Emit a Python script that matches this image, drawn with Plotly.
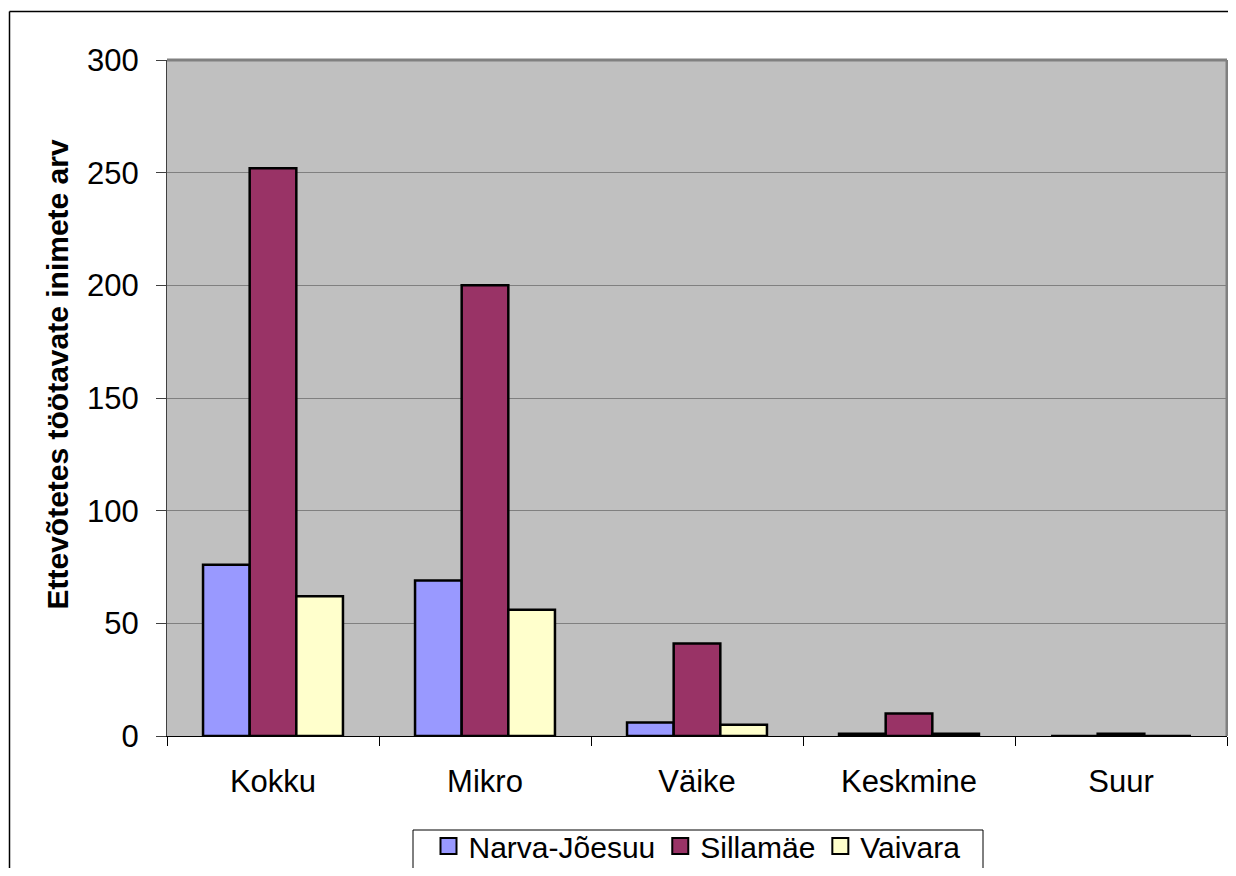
import plotly.graph_objects as go

categories = ["Kokku", "Mikro", "Väike", "Keskmine", "Suur"]
narva = [76, 69, 6, 1, 0]
sillamae = [252, 200, 41, 10, 1]
vaivara = [62, 56, 5, 1, 0]
series_names = ["Narva-Jõesuu", "Sillamäe", "Vaivara"]
colors = ["#9999FF", "#993366", "#FFFFCC"]
y_ticks = [0, 50, 100, 150, 200, 250, 300]
y_title = "Ettevõtetes töötavate inimete arv"

W, H = 1220, 860
L, T, R, B = 159, 52, 1, 132
PW, PH = W - L - R, H - T - B


def px(x):
    return (x - L) / PW


def py(y):
    return (T + PH - y) / PH


fig = go.Figure()
for name, vals, col in zip(series_names, [narva, sillamae, vaivara], colors):
    fig.add_trace(go.Bar(
        x=categories, y=vals, name=name, showlegend=False,
        marker=dict(color=col, line=dict(color="black", width=2.5)),
    ))
# legend entries with larger square symbols
for name, col in zip(series_names, colors):
    fig.add_trace(go.Scatter(
        x=[None], y=[None], mode="markers", name=name,
        marker=dict(symbol="square", size=19, color=col, line=dict(color="black", width=2)),
    ))

fig.update_layout(
    width=W, height=H,
    margin=dict(l=L, r=R, t=T, b=B, autoexpand=False),
    paper_bgcolor="white", plot_bgcolor="#C0C0C0",
    barmode="group", bargap=0.34, bargroupgap=0,
    font=dict(family="Liberation Sans, Arial, sans-serif", color="black", size=31),
    showlegend=True,
    legend=dict(
        orientation="h", x=0.5, xanchor="center", y=py(812), yanchor="top",
        borderwidth=0, bgcolor="rgba(0,0,0,0)",
        font=dict(size=30), traceorder="normal", itemwidth=30,
    ),
    xaxis=dict(
        showline=True, linecolor="black", linewidth=1,
        ticks="outside", ticklen=9, tickcolor="black", tickson="boundaries",
        showgrid=False, tickfont=dict(size=31), ticklabelstandoff=18,
    ),
    yaxis=dict(
        range=[0, 300], tickvals=y_ticks,
        showline=True, linecolor="#404040", linewidth=1,
        ticks="outside", ticklen=10, tickcolor="#404040",
        showgrid=True, gridcolor="#808080", gridwidth=1,
        tickfont=dict(size=31), ticklabelstandoff=11,
        zeroline=False,
    ),
)

fig.add_annotation(
    text="<b>" + y_title + "</b>", textangle=-90,
    xref="paper", yref="paper",
    x=px(48.5), y=py(367),
    xanchor="center", yanchor="middle", showarrow=False,
    font=dict(size=30, color="black"),
)

# legend frame (extends past the bottom edge like the reference)
fig.add_shape(type="rect", xref="paper", yref="paper",
              x0=px(405), x1=px(975), y0=py(H + 30), y1=py(822),
              line=dict(color="black", width=1), fillcolor="white", layer="below")

# plot area border (gray, top and right)
fig.add_shape(type="line", xref="paper", yref="paper", x0=0, x1=1, y0=1, y1=1,
              line=dict(color="#808080", width=3))
fig.add_shape(type="line", xref="paper", yref="paper", x0=1, x1=1, y0=0, y1=1,
              line=dict(color="#808080", width=3))
# outer chart border (top and left edges visible)
fig.add_shape(type="line", xref="paper", yref="paper",
              x0=px(1.5), x1=px(W + 60), y0=py(3.5), y1=py(3.5),
              line=dict(color="black", width=1.5))
fig.add_shape(type="line", xref="paper", yref="paper",
              x0=px(1.5), x1=px(1.5), y0=py(3.5), y1=py(H + 60),
              line=dict(color="black", width=1.5))

fig.write_html("out.html")
